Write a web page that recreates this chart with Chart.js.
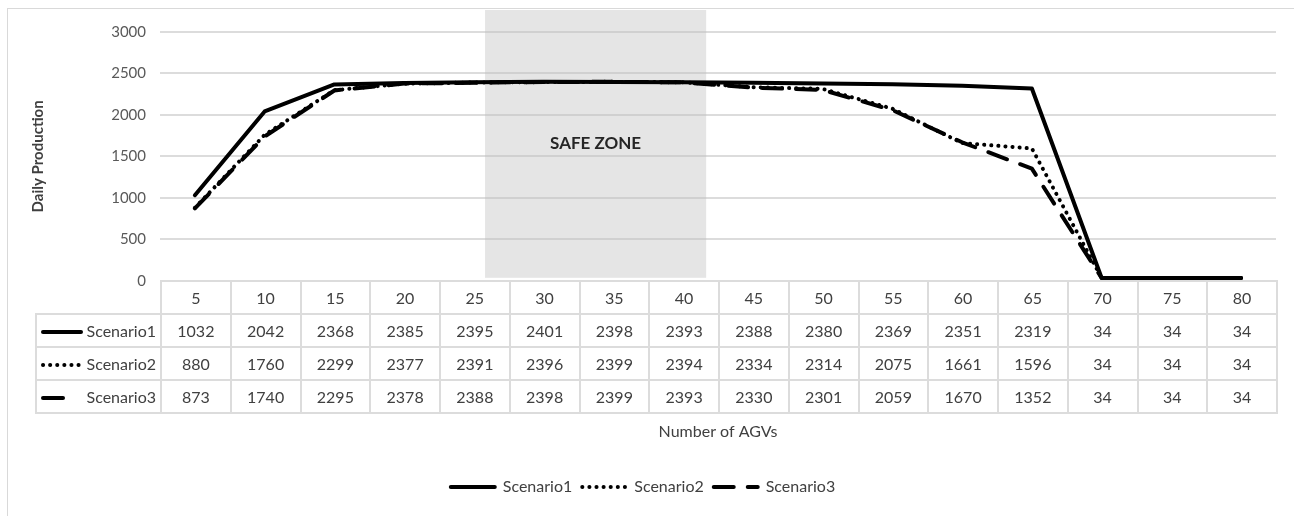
<!DOCTYPE html>
<html>
<head>
<meta charset="utf-8">
<script src="https://cdn.jsdelivr.net/npm/chart.js@4"></script>
<style>
  body { margin: 0; background: #fff; font-family: Lato, "Open Sans", sans-serif; }
  #wrap { position: relative; width: 1294px; height: 516px; overflow: hidden; }
  #frame { position: absolute; left: 7px; top: 8px; width: 1300px; height: 520px; border: 1px solid #d9d9d9; }
  #chart { position: absolute; left: 0; top: 0; }
  #dataTable { position: absolute; border-collapse: collapse; table-layout: fixed; font-size: 16px; color: #404040; }
  #dataTable td { border: 2px solid #dcdcdc; height: 33px; box-sizing: border-box; text-align: center; padding: 0; white-space: nowrap; }
  #dataTable td.blank { border: none; }
  #dataTable td.name { text-align: right; padding-right: 4px; position: relative; }
  #dataTable td.name svg { position: absolute; left: 3px; top: 13px; }
</style>
</head>
<body>
<div id="wrap">
  <div id="frame"></div>
  <canvas id="chart" width="1294" height="516"></canvas>
  <table id="dataTable"></table>
</div>
<script>
const agvs = [5, 10, 15, 20, 25, 30, 35, 40, 45, 50, 55, 60, 65, 70, 75, 80];
const scenario1 = [1032, 2042, 2368, 2385, 2395, 2401, 2398, 2393, 2388, 2380, 2369, 2351, 2319, 34, 34, 34];
const scenario2 = [880, 1760, 2299, 2377, 2391, 2396, 2399, 2394, 2334, 2314, 2075, 1661, 1596, 34, 34, 34];
const scenario3 = [873, 1740, 2295, 2378, 2388, 2398, 2399, 2393, 2330, 2301, 2059, 1670, 1352, 34, 34, 34];
const seriesNames = ["Scenario1", "Scenario2", "Scenario3"];
const yTicks = [0, 500, 1000, 1500, 2000, 2500, 3000];

// safe zone shading, in AGV units / production units
const safeZoneAgv = [25.8, 41.65];
const safeZoneProd = [36, 3265];

const LABEL_W = 125;

const lineStyles = [
  { borderDash: [], cap: "round" },
  { borderDash: [0.1, 7], cap: "round" },
  { borderDash: [20, 14], cap: "round" }
];

// =========================
// DATA TABLE
// =========================
function buildTable() {
  const table = document.getElementById("dataTable");
  let html = "<colgroup><col style='width:" + LABEL_W + "px'>";
  agvs.forEach(() => { html += "<col class='c'>"; });
  html += "</colgroup>";

  html += "<tr><td class='blank'></td>";
  agvs.forEach((a) => { html += "<td>" + a + "</td>"; });
  html += "</tr>";

  const all = [scenario1, scenario2, scenario3];
  const sampleLen = [38, 38, 27];
  all.forEach((vals, i) => {
    const dash = lineStyles[i].borderDash.length ? lineStyles[i].borderDash.join(",") : "none";
    html += "<tr><td class='name'><svg width='46' height='8'><line x1='3' y1='4' x2='" + (3 + sampleLen[i]) +
      "' y2='4' stroke='#000' stroke-width='4' stroke-linecap='round' stroke-dasharray='" + dash + "'/></svg>" +
      seriesNames[i] + "</td>";
    vals.forEach((v) => { html += "<td>" + v + "</td>"; });
    html += "</tr>";
  });
  table.innerHTML = html;
}
buildTable();

const tablePlugin = {
  id: "tablePos",
  afterLayout(chart) {
    const a = chart.chartArea;
    const t = document.getElementById("dataTable");
    t.style.left = (a.left - LABEL_W) + "px";
    t.style.top = (a.bottom - 1) + "px";
    t.style.width = (a.width + LABEL_W) + "px";
    const colW = a.width / agvs.length;
    t.querySelectorAll("col.c").forEach((c) => { c.style.width = colW + "px"; });
  }
};

const safeZonePlugin = {
  id: "safeZone",
  beforeDatasetsDraw(chart) {
    const { ctx, scales: { x, y } } = chart;
    const step = agvs[1] - agvs[0];
    const x0 = x.getPixelForValue((safeZoneAgv[0] - agvs[0]) / step);
    const x1 = x.getPixelForValue((safeZoneAgv[1] - agvs[0]) / step);
    const y0 = y.getPixelForValue(safeZoneProd[1]);
    const y1 = y.getPixelForValue(safeZoneProd[0]);
    ctx.save();
    ctx.fillStyle = "rgba(190,190,190,0.4)";
    ctx.fillRect(x0, y0, x1 - x0, y1 - y0);
    ctx.fillStyle = "#262626";
    ctx.font = "bold 17px Lato, 'Open Sans', sans-serif";
    ctx.textAlign = "center";
    ctx.textBaseline = "middle";
    ctx.fillText("SAFE ZONE", (x0 + x1) / 2, (y0 + y1) / 2);
    ctx.restore();
  }
};

const datasets = [scenario1, scenario2, scenario3].map((vals, i) => ({
  label: seriesNames[i],
  data: vals,
  borderColor: "#000",
  backgroundColor: "#000",
  borderWidth: 4,
  borderDash: lineStyles[i].borderDash,
  borderCapStyle: lineStyles[i].cap,
  borderJoinStyle: "round",
  pointRadius: 0,
  tension: 0,
  fill: false
}));

new Chart(document.getElementById("chart"), {
  type: "line",
  data: {
    labels: agvs.map(String),
    datasets: datasets
  },
  plugins: [safeZonePlugin, tablePlugin],
  options: {
    responsive: false,
    animation: false,
    layout: {
      padding: { left: 10, top: 32, right: 18, bottom: 11 }
    },
    scales: {
      x: {
        type: "category",
        offset: true,
        grid: { display: false, drawTicks: false },
        border: { display: false },
        ticks: { display: false },
        title: {
          display: true,
          text: "Number of AGVs",
          color: "#404040",
          font: { family: "Lato", size: 16 },
          padding: { top: 141, bottom: 28 }
        }
      },
      y: {
        min: 0,
        max: 3000,
        afterBuildTicks(scale) {
          scale.ticks = yTicks.map((v) => ({ value: v }));
        },
        afterFit(scale) {
          scale.width = 150;
        },
        grid: { color: "#dcdcdc", lineWidth: 2, drawTicks: false },
        border: { display: false },
        ticks: {
          color: "#595959",
          font: { family: "Lato", size: 15 },
          padding: 14,
          callback: (v) => String(v)
        },
        title: {
          display: true,
          text: "Daily Production",
          color: "#404040",
          font: { family: "Lato", size: 15, weight: "bold" },
          padding: { top: 19 }
        }
      }
    },
    plugins: {
      legend: {
        position: "bottom",
        labels: {
          usePointStyle: true,
          pointStyle: "line",
          pointStyleWidth: 44,
          color: "#404040",
          font: { family: "Lato", size: 16 },
          padding: 10,
          generateLabels(chart) {
            const items = Chart.defaults.plugins.legend.labels.generateLabels(chart);
            items.forEach((item) => {
              const ds = chart.data.datasets[item.datasetIndex];
              item.lineDash = ds.borderDash;
              item.lineCap = ds.borderCapStyle;
              item.lineWidth = 4;
              item.strokeStyle = "#000";
              item.pointStyle = "line";
            });
            return items;
          }
        }
      },
      tooltip: { enabled: false }
    }
  }
});
</script>
</body>
</html>
